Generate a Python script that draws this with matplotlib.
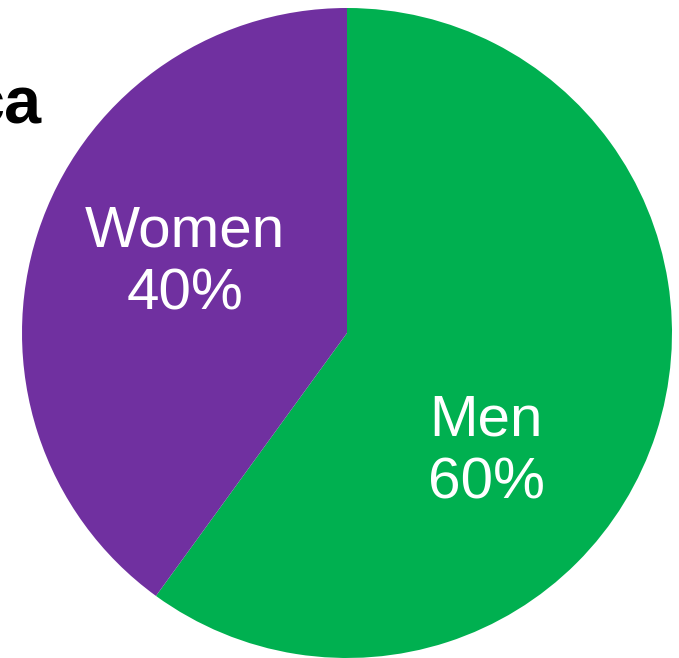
import matplotlib
matplotlib.use("Agg")
import matplotlib.pyplot as plt

# data
categories = ["Men", "Women"]
shares = [60, 40]
colors = ["#00B050", "#7030A0"]
title_fragment = "ca"

# label anchors in pie-radius units
label_pos = [(0.428, -0.366), (-0.498, 0.215)]

W, H, DPI = 679, 658, 100
cx, cy, r = 347, 333, 325  # pie centre / radius in pixels

fig = plt.figure(figsize=(W / DPI, H / DPI), dpi=DPI)
ax = fig.add_axes([0, 0, 1, 1])
ax.pie(shares, colors=colors, startangle=90, counterclock=False,
       radius=1, center=(0, 0), wedgeprops={"linewidth": 0})
ax.set_xlim(-cx / r, (W - cx) / r)
ax.set_ylim(-(H - cy) / r, cy / r)
ax.set_aspect("auto")
ax.axis("off")

for name, val, (x, y) in zip(categories, shares, label_pos):
    ax.text(x, y, f"{name}\n{val}%", ha="center", va="center", color="white",
            fontsize=42, family=["Liberation Sans", "DejaVu Sans"],
            linespacing=1.2)

# title cut off at the left edge, as in the source
fig.text(41 / W, 1 - 124 / H, title_fragment, ha="right", va="baseline",
         fontsize=48, fontweight="bold", color="black",
         family=["Liberation Sans Narrow", "Liberation Sans", "DejaVu Sans"])

fig.savefig("out.png", dpi=DPI)
